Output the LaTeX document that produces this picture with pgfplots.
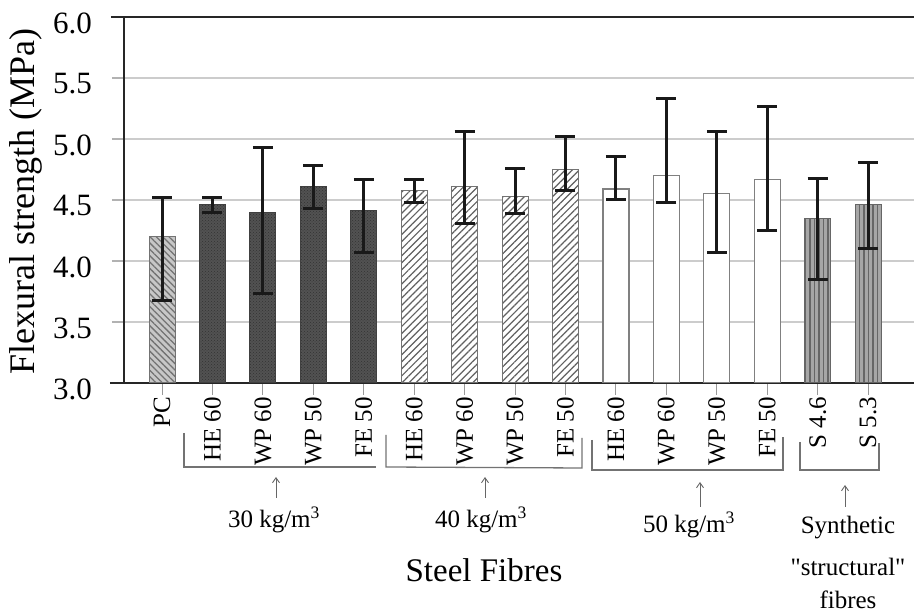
\documentclass[border=0pt]{standalone}
\usepackage{fontspec}
\setmainfont{Liberation Serif}
\usepackage{pgfplots}
\pgfplotsset{compat=1.18}
\usepackage{pgfplotstable}
\usetikzlibrary{patterns,patterns.meta,arrows.meta}

\pgfplotstableread{
x y ep em
0 4.20 0.32 0.52
}\pc
\pgfplotstableread{
x y ep em
1 4.46 0.06 0.06
2 4.40 0.53 0.67
3 4.61 0.17 0.18
4 4.41 0.26 0.34
}\thirty
\pgfplotstableread{
x y ep em
5 4.58 0.09 0.10
6 4.61 0.45 0.30
7 4.53 0.23 0.14
8 4.75 0.27 0.17
}\forty
\pgfplotstableread{
x y ep em
9 4.59 0.27 0.09
10 4.70 0.63 0.22
11 4.55 0.51 0.48
12 4.67 0.60 0.42
}\fifty
\pgfplotstableread{
x y ep em
13 4.35 0.33 0.50
14 4.46 0.35 0.36
}\synth

\newcommand{\fsA}{\fontsize{25}{29}\selectfont}
\newcommand{\fsY}{\fontsize{31}{35}\selectfont}
\newcommand{\fsB}{\fontsize{33}{37}\selectfont}
\newcommand{\fsL}{\fontsize{36}{40}\selectfont}

\begin{document}
\begin{tikzpicture}
\useasboundingbox (-124pt,-232pt) rectangle (790pt,383pt);
\begin{axis}[
  at={(0,0)}, anchor=south west,
  scale only axis, width=790pt, height=366pt,
  xmin=-0.754, xmax=14.91, ymin=3, ymax=6,
  axis x line*=bottom, axis y line*=left,
  axis line style={-, line width=2.4pt, black!85},
  ytick={3,3.5,...,6},
  ymajorgrids, grid style={black!20, line width=1.2pt},
  xtick={0,...,14},
  xticklabels={PC,HE 60,WP 60,WP 50,FE 50,HE 60,WP 60,WP 50,FE 50,HE 60,WP 60,WP 50,FE 50,S 4.6,S 5.3},
  tick align=outside, major tick length=12pt,
  ytick style={line width=1.2pt, black!30},
  xtick style={line width=1pt, black!40},
  xticklabel style={font=\fsA, rotate=90, anchor=east, inner sep=2pt},
  yticklabel style={font=\fsY, /pgf/number format/fixed, /pgf/number format/fixed zerofill, /pgf/number format/precision=1, /pgf/number format/assume math mode=true, inner sep=2pt, xshift=-18pt, yshift=-6pt},
  ylabel={Flexural strength (MPa)},
  ylabel style={font=\fsL, at={(axis description cs:-0.124,0.495)}, anchor=center},
  error bars/y dir=both, error bars/y explicit,
  error bars/error bar style={line width=3pt, black!90},
  error bars/error mark options={rotate=90, mark size=10pt, line width=3pt, black!90},
]
\addplot[ybar, bar width=26pt, bar shift=0pt, draw=black!55, line width=1pt, fill=black!22,
  postaction={pattern={Lines[angle=-45,distance=4.5pt,line width=1.3pt]}, pattern color=black!55}]
  table[x=x, y=y, y error plus=ep, y error minus=em]{\pc};
\addplot[ybar, bar width=26pt, bar shift=0pt, draw=black!75, line width=1pt, fill=black!68,
  postaction={pattern=crosshatch dots, pattern color=black!80}]
  table[x=x, y=y, y error plus=ep, y error minus=em]{\thirty};
\addplot[ybar, bar width=26pt, bar shift=0pt, draw=black!55, line width=1pt, fill=white,
  postaction={pattern={Lines[angle=45,distance=5pt,line width=1.2pt]}, pattern color=black!62}]
  table[x=x, y=y, y error plus=ep, y error minus=em]{\forty};
\addplot[ybar, bar width=26pt, bar shift=0pt, draw=black!50, line width=1.2pt, fill=white]
  table[x=x, y=y, y error plus=ep, y error minus=em]{\fifty};
\addplot[ybar, bar width=26pt, bar shift=0pt, draw=black!60, line width=1pt, fill=black!35,
  postaction={pattern={Lines[angle=90,distance=4.5pt,line width=1.2pt]}, pattern color=black!60}]
  table[x=x, y=y, y error plus=ep, y error minus=em]{\synth};
\end{axis}
% frame lines
\draw[line width=2.4pt, black!85] (-13pt,366pt) -- (790pt,366pt);
\draw[line width=2.4pt, black!85] (-14pt,0pt) -- (0pt,0pt);
% brackets
\begin{scope}[black!55, line width=1.3pt]
\draw (60pt,-50pt) -- (60pt,-84pt) -- (252pt,-84pt);
\draw (262pt,-52pt) -- (262pt,-84pt) -- (458pt,-85pt) -- (458pt,-55pt);
\draw (468pt,-57pt) -- (468pt,-87pt) -- (659pt,-87pt) -- (659pt,-54pt);
\draw (676pt,-59pt) -- (676pt,-87pt) -- (755pt,-87pt) -- (755pt,-60pt);
\end{scope}
\begin{scope}[black!60, line width=0.9pt, -{Straight Barb[length=5pt,width=7pt]}]
\draw (152pt,-115pt) -- (152pt,-94pt);
\draw (361pt,-115pt) -- (361pt,-94pt);
\draw (576pt,-124pt) -- (576pt,-99pt);
\draw (721pt,-124pt) -- (721pt,-102pt);
\end{scope}
\node[font=\fsA, inner sep=0pt] at (150pt,-137pt) {30 kg/m\textsuperscript{3}};
\node[font=\fsA, inner sep=0pt] at (357pt,-137pt) {40 kg/m\textsuperscript{3}};
\node[font=\fsA, inner sep=0pt] at (565pt,-142pt) {50 kg/m\textsuperscript{3}};
\node[font=\fsA, inner sep=0pt] at (724pt,-145pt) {Synthetic};
\node[font=\fsA, inner sep=0pt] at (724pt,-184pt) {\textquotedbl structural\textquotedbl};
\node[font=\fsA, inner sep=0pt] at (724pt,-217pt) {fibres};
\node[font=\fsB, inner sep=0pt] at (360pt,-187pt) {Steel Fibres};
\end{tikzpicture}
\end{document}
